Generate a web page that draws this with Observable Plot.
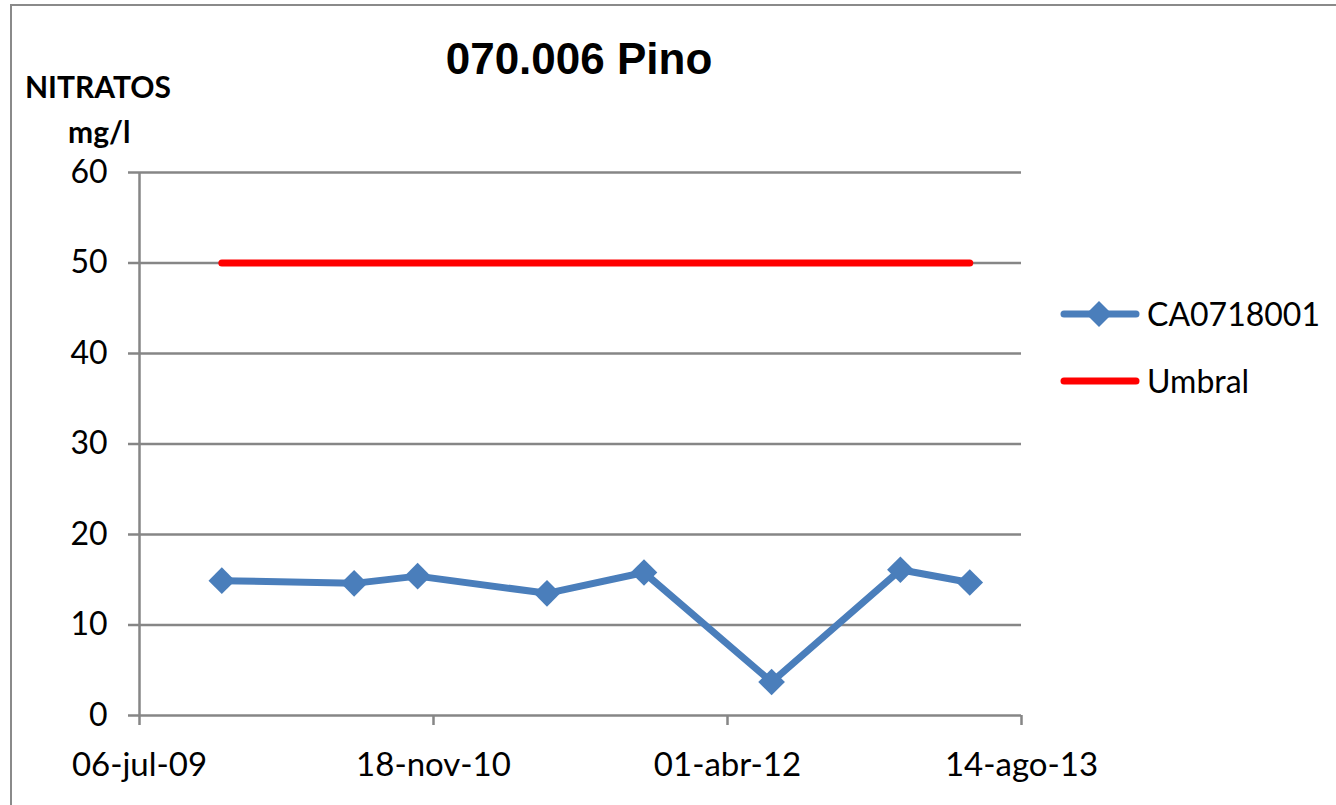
<!DOCTYPE html>
<html>
<head>
<meta charset="utf-8">
<script src="https://cdn.jsdelivr.net/npm/d3@7"></script>
<script src="https://cdn.jsdelivr.net/npm/@observablehq/plot@0.6"></script>
<style>
  html, body { margin: 0; padding: 0; background: #fff; }
  #wrap { position: relative; width: 1336px; height: 805px; overflow: hidden; font-family: Lato, "Open Sans", sans-serif; }
  #frame { position: absolute; left: 10px; top: 4px; width: 2000px; height: 2000px; border-left: 2px solid #8a8a8a; border-top: 2px solid #8a8a8a; }
  #title { position: absolute; left: 0; width: 1158px; top: 34px; text-align: center; font-family: "Liberation Sans", Arial, sans-serif; font-weight: bold; font-size: 44px; color: #000; }
  .ylab { position: absolute; font-weight: bold; font-size: 30px; color: #000; }
  .leg { position: absolute; left: 1060px; font-size: 32px; color: #000; display: flex; align-items: center; }
  .leg svg { margin-right: 7px; }
  #chart { position: absolute; left: 0; top: 0; }
</style>
</head>
<body>
<div id="wrap">
  <div id="chart"></div>
  <div id="frame"></div>
  <div id="title">070.006 Pino</div>
  <div class="ylab" style="left:25px; top:68px;">NITRATOS</div>
  <div class="ylab" style="left:68px; top:113px;">mg/l</div>
  <div class="leg" style="top:294px;">
    <svg width="80" height="30"><line x1="4" y1="15" x2="76" y2="15" stroke="#4a7ebb" stroke-width="7" stroke-linecap="round"/><path d="M39,2 L52,15 L39,28 L26,15 Z" fill="#4a7ebb"/></svg>CA0718001
  </div>
  <div class="leg" style="top:361px;">
    <svg width="80" height="30"><line x1="4" y1="15" x2="76" y2="15" stroke="#ff0000" stroke-width="7" stroke-linecap="round"/></svg>Umbral
  </div>
</div>
<script>
// Sample dates and nitrate values (mg/l) for CA0718001
const sampleDates = ["2009-11-23", "2010-07-06", "2010-10-22", "2011-05-30", "2011-11-11", "2012-06-15", "2013-01-20", "2013-05-18"];
const nitrateValues = [14.9, 14.6, 15.4, 13.5, 15.8, 3.7, 16.1, 14.7];
// Threshold (Umbral)
const umbralDates = ["2009-11-23", "2013-05-18"];
const umbralValues = [50, 50];
// Axis ticks
const xTickDates = ["2009-07-06", "2010-11-18", "2012-04-01", "2013-08-14"];
const xTickLabels = ["06-jul-09", "18-nov-10", "01-abr-12", "14-ago-13"];
const yTicks = [0, 10, 20, 30, 40, 50, 60];

const series = sampleDates.map((d, i) => ({date: new Date(d), value: nitrateValues[i]}));
const umbral = umbralDates.map((d, i) => ({date: new Date(d), value: umbralValues[i]}));
const xTicks = xTickDates.map(d => new Date(d));
const labelMap = new Map(xTicks.map((d, i) => [+d, xTickLabels[i]]));

const gray = "#868686";
const chart = Plot.plot({
  width: 1336,
  height: 805,
  marginLeft: 139,
  marginRight: 315,
  marginTop: 172,
  marginBottom: 90,
  style: {fontFamily: "Lato, 'Open Sans', sans-serif", background: "transparent", color: "#000"},
  x: {type: "utc", domain: [xTicks[0], xTicks[xTicks.length - 1]]},
  y: {domain: [0, 60]},
  marks: [
    Plot.gridY(yTicks.filter(d => d > 0), {stroke: gray, strokeOpacity: 1, strokeWidth: 2.5}),
    Plot.ruleX([xTicks[0]], {stroke: gray, strokeWidth: 2.5}),
    Plot.ruleY([0], {stroke: gray, strokeWidth: 2.5}),
    Plot.axisY(yTicks, {tickSize: 11, tickPadding: 21, fontSize: 32, stroke: gray, strokeWidth: 2.5, fill: "#000", label: null}),
    Plot.axisX(xTicks, {tickSize: 10, tickPadding: 27, fontSize: 33, stroke: gray, strokeWidth: 2.5, fill: "#000", label: null, tickFormat: d => labelMap.get(+d)}),
    Plot.line(umbral, {x: "date", y: "value", stroke: "#ff0000", strokeWidth: 7}),
    Plot.line(series, {x: "date", y: "value", stroke: "#4a7ebb", strokeWidth: 7, strokeLinejoin: "round"}),
    Plot.dot(series, {x: "date", y: "value", symbol: "diamond2", r: 12, fill: "#4a7ebb", stroke: "none"})
  ]
});
document.getElementById("chart").appendChild(chart);
</script>
</body>
</html>
